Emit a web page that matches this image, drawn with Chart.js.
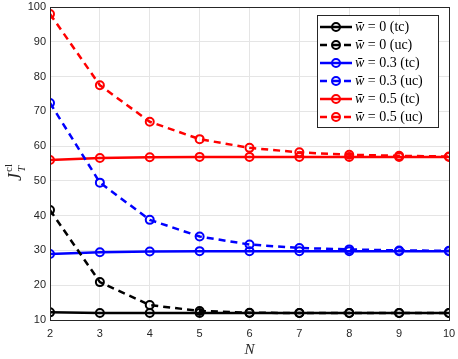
<!DOCTYPE html>
<html>
<head>
<meta charset="utf-8">
<script src="https://cdn.jsdelivr.net/npm/chart.js@4"></script>
<style>
  html, body { margin: 0; padding: 0; background: #fff; }
  #wrap { width: 458px; height: 359px; }
</style>
</head>
<body>
<div id="wrap"><canvas id="chart" width="458" height="359"></canvas></div>
<script>
const nValues = [2, 3, 4, 5, 6, 7, 8, 9, 10];
const w0tc  = [12.2, 12.0, 12.0, 12.0, 12.0, 12.0, 12.0, 12.0, 12.0];
const w0uc  = [41.6, 20.9, 14.3, 12.6, 12.1, 12.0, 12.0, 12.0, 12.0];
const w03tc = [29.0, 29.5, 29.7, 29.8, 29.8, 29.8, 29.8, 29.8, 29.8];
const w03uc = [72.4, 49.5, 38.8, 34.0, 31.7, 30.7, 30.3, 30.0, 29.9];
const w05tc = [56.0, 56.6, 56.8, 56.9, 56.9, 56.9, 56.9, 56.9, 56.9];
const w05uc = [98.0, 77.5, 67.0, 62.0, 59.5, 58.2, 57.5, 57.2, 57.0];
const labels = ['w\u0304 = 0 (tc)', 'w\u0304 = 0 (uc)', 'w\u0304 = 0.3 (tc)', 'w\u0304 = 0.3 (uc)', 'w\u0304 = 0.5 (tc)', 'w\u0304 = 0.5 (uc)'];

function series(label, values, color, dashed) {
  return {
    label: label,
    data: values.map((v, i) => ({ x: nValues[i], y: v })),
    borderColor: color,
    backgroundColor: color,
    borderWidth: 2.5,
    borderDash: dashed ? [7, 5] : [],
    pointRadius: 4,
    pointBorderWidth: 2,
    pointBackgroundColor: 'rgba(0,0,0,0)',
    pointBorderColor: color,
    tension: 0
  };
}

const boxAndLegend = {
  id: 'boxAndLegend',
  afterDraw(chart) {
    const ctx = chart.ctx;
    const a = chart.chartArea;
    ctx.save();
    ctx.strokeStyle = '#262626';
    ctx.lineWidth = 1;
    ctx.strokeRect(a.left + 0.5, a.top + 0.5, a.right - a.left, a.bottom - a.top);

    // legend box
    const lx = 317, ly = 15, lw = 121, lh = 112;
    ctx.fillStyle = '#fff';
    ctx.fillRect(lx, ly, lw, lh);
    ctx.strokeStyle = '#262626';
    ctx.strokeRect(lx + 0.5, ly + 0.5, lw, lh);
    chart.data.datasets.forEach((ds, i) => {
      const y = 27 + i * 18;
      ctx.strokeStyle = ds.borderColor;
      ctx.lineWidth = 2.5;
      ctx.setLineDash(ds.borderDash);
      ctx.beginPath();
      ctx.moveTo(320, y);
      ctx.lineTo(352, y);
      ctx.stroke();
      ctx.setLineDash([]);
      ctx.lineWidth = 2;
      ctx.beginPath();
      ctx.arc(336, y, 4, 0, Math.PI * 2);
      ctx.stroke();
      ctx.fillStyle = '#000';
      ctx.textBaseline = 'middle';
      ctx.font = 'italic 14px "Liberation Serif"';
      ctx.fillText('w\u0304', 355, y);
      const ww = ctx.measureText('w\u0304').width;
      ctx.font = '14px "Liberation Serif"';
      ctx.fillText(ds.label.slice(2), 355 + ww, y);
    });

    // y axis title
    ctx.translate(16, 172);
    ctx.rotate(-Math.PI / 2);
    ctx.fillStyle = '#262626';
    ctx.textBaseline = 'alphabetic';
    ctx.font = 'italic 18px "Liberation Serif"';
    ctx.fillText('J', -9, 5);
    ctx.font = 'italic 11px "Liberation Serif"';
    ctx.fillText('T', 0, 9);
    ctx.font = '11px "Liberation Serif"';
    ctx.fillText('cl', 0, -4);
    ctx.restore();
  }
};

new Chart(document.getElementById('chart'), {
  type: 'line',
  data: {
    datasets: [
      series(labels[0], w0tc, '#000000', false),
      series(labels[1], w0uc, '#000000', true),
      series(labels[2], w03tc, '#0000ff', false),
      series(labels[3], w03uc, '#0000ff', true),
      series(labels[4], w05tc, '#ff0000', false),
      series(labels[5], w05uc, '#ff0000', true)
    ]
  },
  options: {
    responsive: false,
    animation: false,
    layout: { padding: { top: 7, right: 9, left: 0, bottom: 0 } },
    plugins: { legend: { display: false }, tooltip: { enabled: false } },
    scales: {
      x: {
        type: 'linear', min: 2, max: 10,
        ticks: { stepSize: 1, color: '#262626', font: { family: 'Liberation Sans', size: 11 }, padding: 7 },
        grid: { color: '#e5e5e5', drawTicks: false },
        border: { color: '#262626' },
        title: { display: true, text: 'N', color: '#262626', padding: { top: 0, bottom: 0 }, font: { family: 'Liberation Serif', style: 'italic', size: 15 } },
        afterFit(s) { s.height = 39; s.paddingLeft = 0; s.paddingRight = 0; }
      },
      y: {
        min: 10, max: 100,
        ticks: { stepSize: 10, color: '#262626', font: { family: 'Liberation Sans', size: 11 }, padding: 4 },
        grid: { color: '#e5e5e5', drawTicks: false },
        border: { color: '#262626' },
        afterFit(s) { s.width = 50; s.paddingTop = 0; s.paddingBottom = 0; }
      }
    }
  },
  plugins: [boxAndLegend]
});
</script>
</body>
</html>
